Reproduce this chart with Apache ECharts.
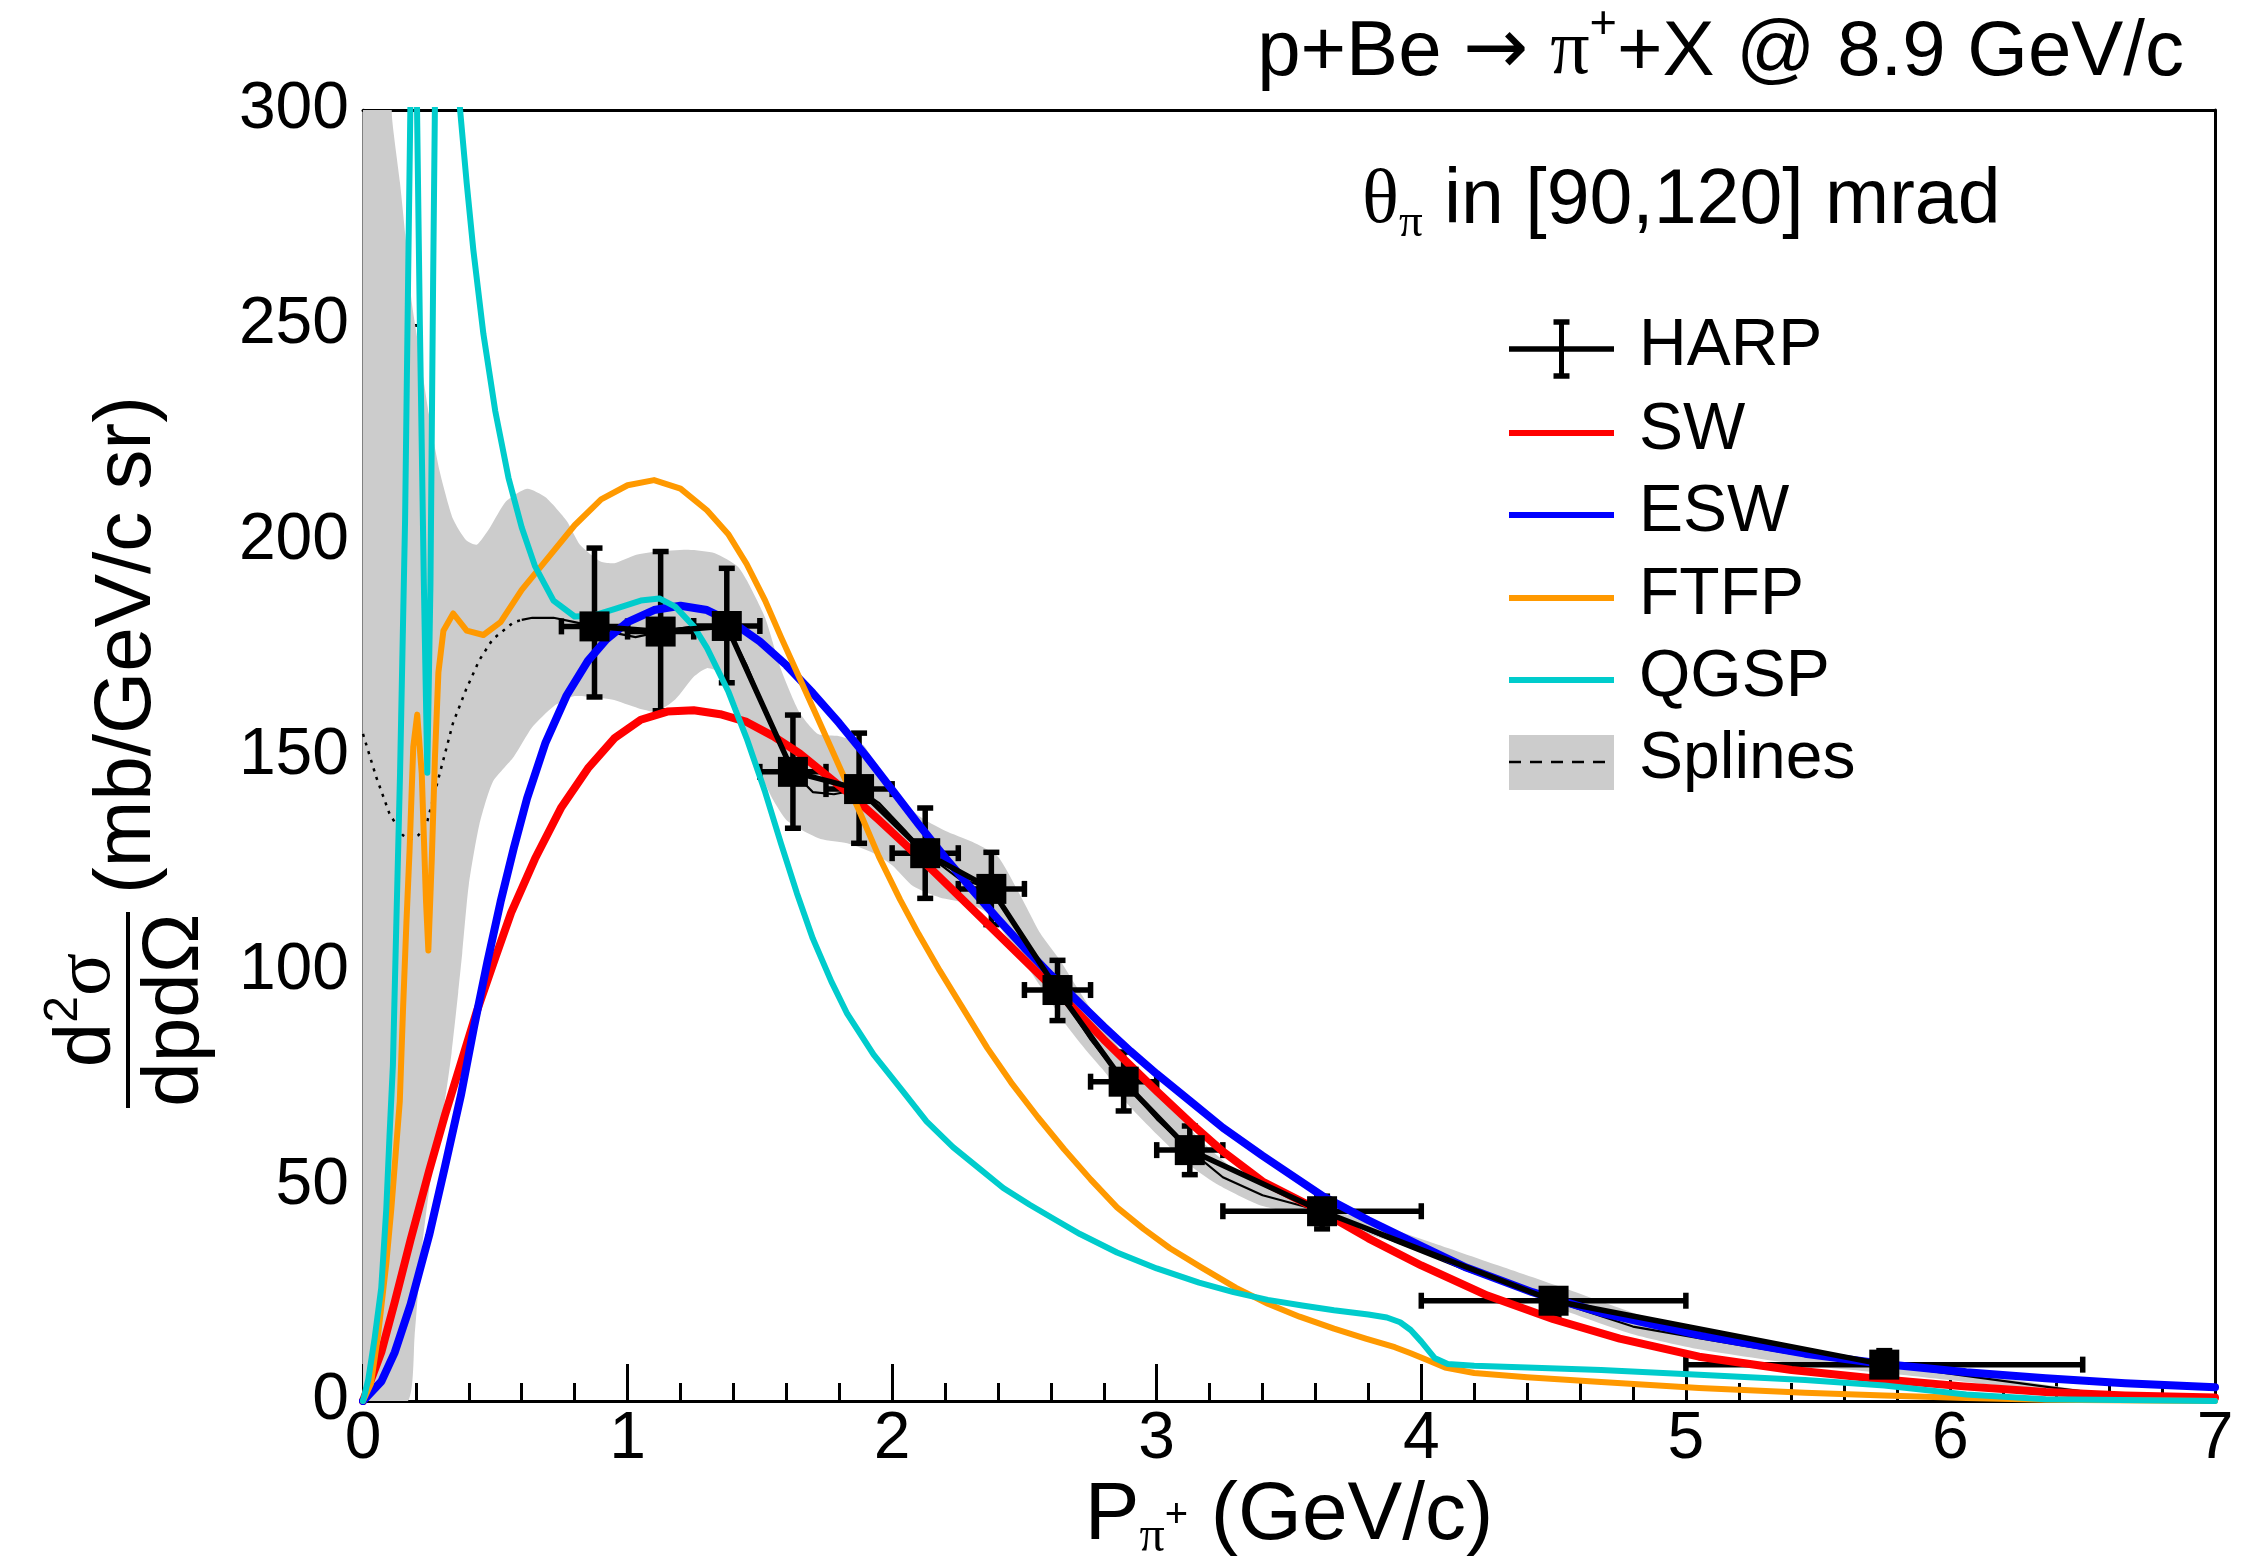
<!DOCTYPE html>
<html>
<head>
<meta charset="utf-8">
<title>p+Be → π+ X @ 8.9 GeV/c</title>
<script src="https://cdn.jsdelivr.net/npm/echarts@6.0.0/dist/echarts.min.js"></script>
<style>
html, body { margin: 0; padding: 0; background: #fff; }
#main { width: 2260px; height: 1567px; }
</style>
</head>
<body>
<div id="main"></div>
<script>
// HARP points, 90-120 mrad
var harpP   = [0.875, 1.125, 1.375, 1.625, 1.875, 2.125, 2.375, 2.625, 2.875, 3.125, 3.625, 4.5, 5.75];
var harpV   = [180.0, 178.8, 180.1, 146.2, 142.2, 127.3, 119.0, 95.5, 74.2, 58.3, 44.1, 23.3, 8.45];
var harpPLo = [0.75, 1.0, 1.25, 1.5, 1.75, 2.0, 2.25, 2.5, 2.75, 3.0, 3.25, 4.0, 5.0];
var harpPHi = [1.0, 1.25, 1.5, 1.75, 2.0, 2.25, 2.5, 2.75, 3.0, 3.25, 4.0, 5.0, 6.5];
var harpVLo = [163.6, 160.4, 166.9, 133.1, 129.6, 116.8, 110.7, 88.4, 67.4, 52.6, 40.0, 19.7, 5.1];
var harpVHi = [198.2, 197.4, 193.5, 159.4, 155.2, 137.8, 127.5, 102.4, 81.1, 63.9, 47.6, 26.0, 11.7];

// model curves [p, d2sigma]
var swCurve = [[0,0],[0.07,11.5],[0.12,23],[0.18,37.5],[0.25,53.5],[0.31,66.5],[0.37,78.5],[0.43,90.5],[0.5,103],[0.56,113.5],[0.65,126],[0.75,138],[0.85,147],[0.95,154],[1.05,158.3],[1.15,160.2],[1.25,160.5],[1.35,159.6],[1.45,157.8],[1.55,154.5],[1.65,150.5],[1.75,145.5],[1.85,140.5],[1.95,135],[2.05,129.3],[2.15,123.5],[2.25,117.5],[2.4,108.5],[2.55,99.5],[2.65,93.5],[2.8,84],[2.9,78],[3.0,72],[3.13,64.5],[3.25,58],[3.4,51],[3.63,43.8],[3.8,37.8],[4.0,31.5],[4.25,24.5],[4.5,19],[4.75,14.5],[5.05,10.3],[5.4,7.2],[5.75,5],[6.05,3.4],[6.36,2.1],[6.66,1.3],[7,0.8]];
var eswCurve = [[0,0],[0.07,4.6],[0.12,11.3],[0.18,22.5],[0.25,38.5],[0.31,54.5],[0.37,71],[0.42,87],[0.47,102],[0.52,116],[0.57,128.5],[0.62,140],[0.69,153],[0.77,164],[0.85,172],[0.92,177],[1.0,181],[1.1,183.8],[1.2,184.8],[1.3,183.8],[1.4,180.8],[1.5,176.5],[1.6,171],[1.7,164.5],[1.8,157.5],[1.9,150],[2.0,142],[2.1,134],[2.2,126.3],[2.3,119],[2.4,112],[2.5,105.3],[2.6,99],[2.7,93],[2.8,87],[2.9,81.3],[3.0,76],[3.13,69.5],[3.25,63.5],[3.4,57],[3.63,47.5],[3.8,42],[4.0,36],[4.17,31],[4.42,25.3],[4.68,20.5],[5.05,15.3],[5.45,11],[5.75,8.6],[6.06,6.7],[6.36,5.3],[6.66,4.1],[7,3.2]];
var ftfpCurve = [[0,0],[0.03,4],[0.057,15.4],[0.088,32],[0.107,44.6],[0.126,59.5],[0.139,69.6],[0.151,90.5],[0.164,111],[0.176,128],[0.19,152],[0.205,159.5],[0.222,145.8],[0.238,116.4],[0.247,104.7],[0.26,126],[0.272,149.7],[0.285,169.3],[0.304,179],[0.341,183],[0.392,179],[0.455,178],[0.52,181],[0.6,188.5],[0.7,196],[0.8,203.5],[0.9,209.5],[1.0,212.8],[1.1,214],[1.2,212],[1.3,207],[1.38,201.5],[1.45,194.5],[1.52,186],[1.58,177.5],[1.65,168],[1.72,158.5],[1.8,147.5],[1.88,136.5],[1.95,126.5],[2.03,116.5],[2.1,108.5],[2.18,100],[2.26,92],[2.36,82],[2.45,74],[2.55,66],[2.65,58.5],[2.75,51.5],[2.85,45],[2.95,40],[3.05,35.5],[3.17,31],[3.3,26.3],[3.42,22.6],[3.54,19.6],[3.67,16.8],[3.79,14.5],[3.9,12.5],[3.96,11.1],[4.02,9.6],[4.09,7.8],[4.2,6.5],[4.4,5.5],[4.68,4.4],[5.05,3],[5.45,1.9],[5.75,1.3],[6.06,0.7],[6.36,0.3],[7,0]];
var qgspCurve = [[0,0],[0.02,5],[0.044,14.6],[0.069,26.3],[0.088,44.6],[0.1,61.3],[0.113,78],[0.126,111],[0.14,145.8],[0.159,204.5],[0.171,263],[0.18,305],[0.19,340],[0.2,320],[0.215,250],[0.23,190],[0.243,146],[0.255,190],[0.265,260],[0.275,320],[0.3,360],[0.33,335],[0.367,300],[0.392,283],[0.417,267.5],[0.455,248],[0.5,230],[0.55,214.5],[0.6,203],[0.65,194],[0.72,186],[0.8,182.3],[0.87,182.5],[0.95,184],[1.05,186],[1.12,186.5],[1.18,184.6],[1.25,180],[1.3,175],[1.38,165],[1.45,154],[1.52,141.5],[1.58,129.5],[1.64,118],[1.7,107.5],[1.77,97.5],[1.83,90],[1.93,80.5],[2.04,72],[2.13,65],[2.23,59],[2.33,54],[2.42,49.5],[2.52,45.6],[2.62,42],[2.71,38.8],[2.85,34.5],[3.0,30.8],[3.16,27.5],[3.29,25.3],[3.42,23.5],[3.55,22.2],[3.67,21.1],[3.8,20.1],[3.87,19.4],[3.92,18.3],[3.96,16.5],[4.0,13.8],[4.05,10],[4.1,8.6],[4.2,8.2],[4.4,7.8],[4.68,7.2],[5.05,6.1],[5.45,4.9],[5.75,3.6],[6.06,1.5],[6.36,0.4],[7,0]];

// spline central value (dotted below data range) and its error band
var splineLow = [[0,155],[0.05,145],[0.1,136.5],[0.15,131.5],[0.18,130.5],[0.21,131.5],[0.24,134],[0.29,145.8],[0.34,157.5],[0.39,165.4],[0.44,172.2],[0.49,177],[0.57,181],[0.6,181.5]];
var splineMid = [[0.6,181.5],[0.64,182],[0.72,182],[0.8,181],[0.875,180],[0.95,178.5],[1.03,177.5],[1.125,178.8],[1.25,180],[1.375,180.1],[1.45,171],[1.53,159],[1.6,149.5],[1.625,146.2],[1.7,141.5],[1.78,141],[1.875,142.2],[1.95,139],[2.05,132.5],[2.125,127.3],[2.25,121.5],[2.375,119],[2.5,107.5],[2.625,95.5],[2.75,84],[2.875,74.2],[3.0,65.5],[3.125,58.3],[3.25,52],[3.4,47.8],[3.625,44.1],[3.9,37],[4.17,30.4],[4.5,23.3],[4.8,17.3],[5.05,14.6],[5.4,11],[5.75,8.45],[6.1,5.5],[6.4,3],[6.6,1.5],[6.75,0]];
var bandUpper = [[0,330],[0.1,315],[0.11,298],[0.14,283],[0.16,271],[0.185,255],[0.205,247],[0.25,229],[0.29,216],[0.34,205],[0.39,200],[0.43,199],[0.48,203],[0.54,209],[0.62,212],[0.69,210],[0.77,204.5],[0.82,199],[0.9,195],[0.95,194.7],[1.03,196.6],[1.11,197.4],[1.23,197.8],[1.33,197],[1.415,194],[1.45,190.8],[1.52,182],[1.58,170],[1.65,160],[1.72,155],[1.8,154.5],[1.89,152.5],[1.95,146.5],[2.02,141],[2.1,136],[2.2,132.5],[2.3,130],[2.4,126.5],[2.48,118],[2.56,108.7],[2.63,102.8],[2.71,95],[2.79,87.5],[2.9,79],[3.0,72.5],[3.1,65],[3.16,61],[3.23,57],[3.32,52.5],[3.42,49.5],[3.55,46.5],[3.63,45],[3.79,42],[4.05,36.6],[4.3,31.3],[4.55,26],[4.8,20.5],[5.05,16],[5.45,10.5],[5.75,8.5],[6.05,6.5],[6.36,3.8],[6.66,1.2],[6.8,0]];
var bandLower = [[0,0],[0.17,0],[0.195,15],[0.22,34],[0.25,49],[0.28,60],[0.31,70],[0.335,81],[0.36,95],[0.375,104],[0.4,120],[0.44,134],[0.49,143.8],[0.57,149.7],[0.64,156.6],[0.72,161.4],[0.8,163.8],[0.94,163],[1.04,161],[1.11,160.2],[1.18,163],[1.25,168.3],[1.3,170.3],[1.35,169.1],[1.415,161.4],[1.48,149],[1.55,139.7],[1.6,135],[1.65,133],[1.73,130.6],[1.83,129.6],[1.93,127.3],[2.0,124.5],[2.08,119.6],[2.18,117],[2.28,115.7],[2.36,113.4],[2.46,105.7],[2.56,96.4],[2.66,87.2],[2.74,81],[2.81,76],[2.89,69],[3.0,62],[3.12,55],[3.23,50.3],[3.39,45.5],[3.55,43.5],[3.63,42.8],[3.79,39],[4.05,34],[4.3,28.2],[4.5,22],[4.8,15.5],[5.05,12],[5.45,8.3],[5.75,6.5],[6.05,4.5],[6.36,2.4],[6.6,0.3],[6.8,0]];

// axes
var xMin = 0, xMax = 7, xStep = 1;
var yMin = 0, yMax = 300, yStep = 50;

var SANS = 'Liberation Sans', SERIF = 'Liberation Serif', DEJA = 'DejaVu Sans';
var black = '#000';

// text pieces placed one after another (sub/superscripts)
var meas = document.createElement('canvas').getContext('2d');
function run(parts, x, y, align) {
  var w = parts.map(function (q) {
    meas.font = q[1] + 'px "' + q[2] + '"';
    return meas.measureText(q[0]).width;
  });
  var total = w.reduce(function (a, b) { return a + b; }, 0);
  var cx = align === 'right' ? x - total : (align === 'center' ? x - total / 2 : x);
  return parts.map(function (q, i) {
    var el = {
      type: 'text', x: cx, y: y + (q[3] || 0),
      style: { text: q[0], font: q[1] + 'px "' + q[2] + '"', fill: black,
               align: 'left', verticalAlign: 'middle', textAlign: 'left', textVerticalAlign: 'middle' }
    };
    cx += w[i];
    return el;
  });
}

// legend
var legX1 = 1509, legX2 = 1614, legText = 1639;
var legRows = [349, 433, 515, 598, 680, 762];
var legNames = ['HARP', 'SW', 'ESW', 'FTFP', 'QGSP', 'Splines'];
var legColors = [black, '#ff0000', '#0000ff', '#ff9900', '#00cccc', black];

var legend = [];
legend.push({ type: 'line', shape: { x1: legX1, y1: legRows[0], x2: legX2, y2: legRows[0] }, style: { stroke: black, lineWidth: 5.5 } });
var mx = (legX1 + legX2) / 2;
legend.push({ type: 'line', shape: { x1: mx, y1: legRows[0] - 27, x2: mx, y2: legRows[0] + 27 }, style: { stroke: black, lineWidth: 5 } });
legend.push({ type: 'line', shape: { x1: mx - 8, y1: legRows[0] - 27, x2: mx + 8, y2: legRows[0] - 27 }, style: { stroke: black, lineWidth: 5.5 } });
legend.push({ type: 'line', shape: { x1: mx - 8, y1: legRows[0] + 27, x2: mx + 8, y2: legRows[0] + 27 }, style: { stroke: black, lineWidth: 5.5 } });
for (var i = 1; i <= 4; i++) {
  legend.push({ type: 'line', shape: { x1: legX1, y1: legRows[i], x2: legX2, y2: legRows[i] }, style: { stroke: legColors[i], lineWidth: 6 } });
}
legend.push({ type: 'rect', shape: { x: legX1, y: legRows[5] - 27, width: legX2 - legX1, height: 55 }, style: { fill: '#cccccc' } });
legend.push({ type: 'line', shape: { x1: legX1, y1: legRows[5], x2: legX2, y2: legRows[5] }, style: { stroke: black, lineWidth: 2.5, lineDash: [12, 9] } });
legNames.forEach(function (n, i) {
  legend = legend.concat(run([[n, 66, SANS]], legText, legRows[i] - 2, 'left'));
});

var texts = [].concat(
  run([['p+Be ', 78, SANS], ['→', 78, DEJA], [' ', 78, SANS], ['π', 78, SERIF], ['+', 47, SANS, -28], ['+X @ 8.9 GeV/c', 78, SANS]], 2184, 53, 'right'),
  run([['θ', 77, SERIF], ['π', 47, SERIF, 22], [' in [90,120] mrad', 77, SANS]], 1362, 202, 'left'),
  run([['P', 82, SANS], ['π', 50, SERIF, 22], ['+', 40, SANS, 0], [' (GeV/c)', 82, SANS]], 1289, 1516, 'center')
);
var yTitle = {
  type: 'group', x: 128, y: 1010, rotation: Math.PI / 2,
  children: [].concat(
    run([['d', 80, SANS], ['2', 48, SANS, -24], ['σ', 80, SERIF]], 0, -40, 'center'),
    [{ type: 'line', shape: { x1: -98, y1: 0, x2: 98, y2: 0 }, style: { stroke: black, lineWidth: 4 } }],
    run([['dpdΩ', 80, SANS]], 0, 48, 'center'),
    run([['(mb/GeV/c sr)', 80, SANS]], 116, 0, 'left')
  )
};

var harpPts = harpP.map(function (p, i) { return [p, harpV[i]]; });
var harpErr = harpP.map(function (p, i) { return [p, harpV[i], harpPLo[i], harpPHi[i], harpVLo[i], harpVHi[i]]; });

function curve(name, data, color, width) {
  return { type: 'line', name: name, data: data, showSymbol: false, symbol: 'none', smooth: false,
           lineStyle: { color: color, width: width, join: 'round', cap: 'round' }, itemStyle: { color: color }, silent: true };
}

var myChart = echarts.init(document.getElementById('main'));

var option = {
  backgroundColor: '#fff',
  animation: false,
  grid: { left: 363, right: 45, top: 110, bottom: 166, outerBoundsMode: 'none' },
  xAxis: [{
    type: 'value', min: xMin, max: xMax, interval: xStep, position: 'bottom',
    axisLine: { show: true, onZero: false, lineStyle: { color: black, width: 3 } },
    axisTick: { show: true, inside: true, length: 37, lineStyle: { color: black, width: 3 } },
    minorTick: { show: true, splitNumber: 5, length: 18, lineStyle: { color: black, width: 3 } },
    splitLine: { show: false }, minorSplitLine: { show: false },
    axisLabel: { fontSize: 66, color: black, fontFamily: SANS, margin: 6, showMinLabel: true, showMaxLabel: true }
  }, {
    type: 'value', min: xMin, max: xMax, position: 'top',
    axisLine: { show: true, onZero: false, lineStyle: { color: black, width: 3 } },
    axisTick: { show: false }, axisLabel: { show: false }, splitLine: { show: false }
  }],
  yAxis: [{
    type: 'value', min: yMin, max: yMax, interval: yStep, position: 'left',
    axisLine: { show: true, onZero: false, lineStyle: { color: '#808080', width: 3 } },
    axisTick: { show: true, inside: true, length: 55, lineStyle: { color: black, width: 3 } },
    minorTick: { show: true, splitNumber: 5, length: 28, lineStyle: { color: black, width: 3 } },
    splitLine: { show: false }, minorSplitLine: { show: false },
    axisLabel: { fontSize: 66, color: black, fontFamily: SANS, margin: 14, showMinLabel: true, showMaxLabel: true }
  }, {
    type: 'value', min: yMin, max: yMax, position: 'right',
    axisLine: { show: true, onZero: false, lineStyle: { color: black, width: 3 } },
    axisTick: { show: false }, axisLabel: { show: false }, splitLine: { show: false }
  }],
  series: [
    {
      type: 'custom', name: 'Splines band', data: [[0, 0]], encode: { x: 0, y: 1 }, silent: true,
      renderItem: function (params, api) {
        var pts = bandUpper.map(function (d) { return api.coord(d); });
        for (var k = bandLower.length - 1; k >= 0; k--) pts.push(api.coord(bandLower[k]));
        var cs = params.coordSys;
        return {
          type: 'polygon', shape: { points: pts, smooth: 0.2 }, style: { fill: '#cccccc' },
          clipPath: { type: 'rect', shape: { x: cs.x, y: cs.y, width: cs.width, height: cs.height } }
        };
      }
    },
    { type: 'line', name: 'Splines', data: splineLow, showSymbol: false, symbol: 'none', smooth: false, silent: true,
      lineStyle: { color: black, width: 2.5, type: [3, 6] } },
    { type: 'line', name: 'Splines', data: splineMid, showSymbol: false, symbol: 'none', smooth: false, silent: true,
      lineStyle: { color: black, width: 2.2, join: 'round' } },
    curve('SW', swCurve, '#ff0000', 8),
    curve('ESW', eswCurve, '#0000ff', 8),
    curve('FTFP', ftfpCurve, '#ff9900', 6),
    curve('QGSP', qgspCurve, '#00cccc', 6),
    {
      type: 'custom', name: 'HARP errors', data: harpErr, encode: { x: 0, y: 1 }, silent: true, z: 3,
      renderItem: function (params, api) {
        var p = api.value(0), v = api.value(1);
        var c = api.coord([p, v]);
        var l = api.coord([api.value(2), v]), r = api.coord([api.value(3), v]);
        var b = api.coord([p, api.value(4)]), t = api.coord([p, api.value(5)]);
        var st = { stroke: black, lineWidth: 5.5 };
        var k = 8;
        return {
          type: 'group', children: [
            { type: 'line', shape: { x1: l[0], y1: c[1], x2: r[0], y2: c[1] }, style: st },
            { type: 'line', shape: { x1: l[0], y1: c[1] - k, x2: l[0], y2: c[1] + k }, style: st },
            { type: 'line', shape: { x1: r[0], y1: c[1] - k, x2: r[0], y2: c[1] + k }, style: st },
            { type: 'line', shape: { x1: c[0], y1: b[1], x2: c[0], y2: t[1] }, style: st },
            { type: 'line', shape: { x1: c[0] - k, y1: b[1], x2: c[0] + k, y2: b[1] }, style: st },
            { type: 'line', shape: { x1: c[0] - k, y1: t[1], x2: c[0] + k, y2: t[1] }, style: st }
          ]
        };
      }
    },
    { type: 'line', name: 'HARP', data: harpPts, showSymbol: true, symbol: 'rect', symbolSize: 30, z: 4, silent: true,
      lineStyle: { color: black, width: 5.5 }, itemStyle: { color: black } }
  ],
  graphic: { elements: legend.concat(texts, [yTitle]) }
};

myChart.setOption(option);
</script>
</body>
</html>
